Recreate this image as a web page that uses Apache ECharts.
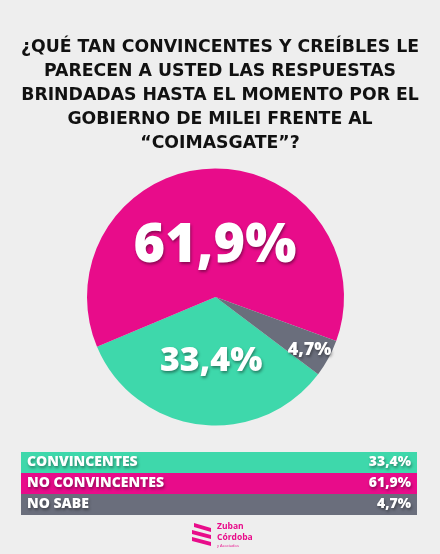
<!DOCTYPE html>
<html><head><meta charset="utf-8">
<script src="https://cdn.jsdelivr.net/npm/echarts@6/dist/echarts.min.js"></script>
<style>html,body{margin:0;padding:0;background:#eeeeee;}#c{width:440px;height:554px;}</style>
</head><body><div id="c"></div>
<script>
const titleLines = ['¿QUÉ TAN CONVINCENTES Y CREÍBLES LE', 'PARECEN A USTED LAS RESPUESTAS', 'BRINDADAS HASTA EL MOMENTO POR EL', 'GOBIERNO DE MILEI FRENTE AL', '“COIMASGATE”?'];
const categories = ['CONVINCENTES', 'NO CONVINCENTES', 'NO SABE'];
const values = [33.4, 61.9, 4.7];
const colors = ['#3ed8ab', '#e80c8a', '#6a6e7c'];
const labelSizes = [34, 54, 18];

const fmt = v => v.toFixed(1).replace('.', ',') + '%';
const shadow = {textShadowColor: 'rgba(0,0,0,0.4)', textShadowBlur: 3, textShadowOffsetX: 1, textShadowOffsetY: 2};
const FONT = '"Open Sans", sans-serif';
const labelShift = [{dx: 4, dy: -2}, {dx: 1, dy: 17}, {dx: 35, dy: 21}];

const chart = echarts.init(document.getElementById('c'), null, {renderer: 'canvas'});
const pieData = categories.map((c, i) => ({name: c, value: values[i], itemStyle: {color: colors[i]}, label: {fontSize: labelSizes[i]}}));
chart.setOption({
  backgroundColor: '#eeeeee',
  animation: false,
  title: titleLines.map((t, i) => ({
    text: t, left: 'center', top: 36 + 24 * i, padding: 0,
    textStyle: {fontFamily: '"DejaVu Sans", sans-serif', fontWeight: 'bold', fontSize: 17.3, lineHeight: 24, color: '#111'}
  })),
  legend: {
    orient: 'vertical', left: 16, top: 452, padding: 0, itemGap: 0, itemWidth: 0, itemHeight: 21,
    icon: 'rect', selectedMode: false,
    data: categories.map((c, i) => ({name: c, textStyle: {backgroundColor: colors[i]}})),
    formatter: name => {
      const i = categories.indexOf(name);
      return '{n|' + name + '}{v|' + fmt(values[i]) + '}';
    },
    textStyle: {
      padding: [0, 6, 0, 6], height: 21,
      rich: {
        n: Object.assign({width: 300, align: 'left', color: '#fff', fontFamily: FONT, fontWeight: 800, fontSize: 14, lineHeight: 21}, shadow),
        v: Object.assign({width: 84, align: 'right', color: '#fff', fontFamily: FONT, fontWeight: 800, fontSize: 14, lineHeight: 21}, shadow)
      }
    }
  },
  series: [{
    type: 'pie', center: [215.5, 297], radius: 128.5, startAngle: 323, clockwise: true,
    data: pieData,
    label: Object.assign({position: 'inside', formatter: p => fmt(p.value), color: '#fff', fontFamily: FONT, fontWeight: 800}, shadow),
    labelLayout: p => labelShift[p.dataIndex],
    labelLine: {show: false},
    emphasis: {disabled: true}
  }],
  graphic: [{
    type: 'group', left: 192, top: 522,
    children: [
      {type: 'polygon', shape: {points: [[2, 3], [19, 8], [19, 12], [2, 7]]}, style: {fill: '#e80c8a'}},
      {type: 'polygon', shape: {points: [[0, 10], [19, 15], [19, 19], [0, 14]]}, style: {fill: '#e80c8a'}},
      {type: 'polygon', shape: {points: [[0, 17], [19, 22], [19, 26], [0, 21]]}, style: {fill: '#e80c8a'}},
      {type: 'text', x: 25, y: 2, style: {text: 'Zuban', fill: '#e80c8a', font: '700 8.5px "Open Sans"'}},
      {type: 'text', x: 25, y: 13, style: {text: 'Córdoba', fill: '#e80c8a', font: '700 8.5px "Open Sans"'}},
      {type: 'text', x: 25, y: 24, style: {text: 'y Asociados', fill: '#e80c8a', font: '400 4px "Open Sans"'}}
    ]
  }]
});
</script></body></html>
